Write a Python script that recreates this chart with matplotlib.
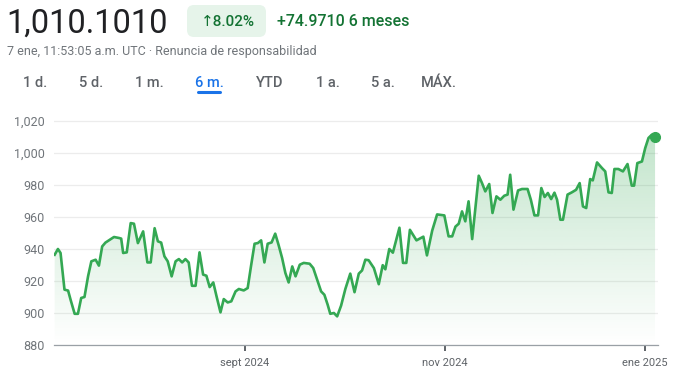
import numpy as np
import pandas as pd
import matplotlib
matplotlib.use('Agg')
import matplotlib.pyplot as plt
import matplotlib.dates as mdates
from matplotlib.patches import Polygon, FancyBboxPatch
from matplotlib.lines import Line2D
from matplotlib.transforms import IdentityTransform
from matplotlib.colors import to_rgb

# Datos (dias desde el inicio, valor)
inicio = '2024-07-05'
dias = [0, 1.0, 1.8, 3.0, 4.1, 4.9, 6.1, 7.1, 8.1, 9.1, 10.2, 11.2, 12.5, 13.5, 14.5, 15.5,
        17.1, 18.1, 19.6, 20.3, 20.9, 22.0, 23.2, 24.2, 25.4, 27.0, 28.3, 29.3, 30.5, 31.5,
        32.5, 33.5, 34.5, 35.7, 36.9, 37.9, 38.9, 39.9, 40.9, 41.9, 43.0, 44.2, 45.3, 46.3,
        47.3, 48.4, 49.4, 50.6, 51.6, 52.8, 53.9, 55.2, 56.2, 57.7, 58.9, 59.9, 61.0, 62.0,
        63.0, 64.0, 65.0, 66.2, 67.3, 68.3, 69.4, 70.4, 71.4, 72.5, 73.5, 74.8, 76.0, 77.8,
        78.9, 80.1, 81.3, 82.3, 83.3, 84.1, 85.2, 86.2, 87.4, 88.7, 90.2, 91.5, 92.8, 93.8,
        94.8, 95.8, 97.4, 98.9, 100.1, 100.9, 102.1, 103.2, 105.2, 106.3, 107.3, 108.4, 110.4,
        112.5, 113.6, 115.2, 116.7, 118.9, 120.2, 121.3, 122.3, 123.3, 124.3, 125.3, 126.3,
        127.4, 129.4, 130.4, 131.4, 132.6, 133.6, 134.8, 136.0, 137.2, 138.2, 139.0, 140.0,
        141.4, 142.6, 144.3, 145.3, 146.4, 147.5, 148.5, 149.5, 150.5, 151.5, 152.5, 153.3,
        154.3, 155.1, 156.5, 157.8, 159.1, 160.2, 161.2, 162.2, 163.4, 164.2, 165.5, 167.0,
        168.0, 169.0, 170.0, 170.8, 172.0, 173.4, 174.8, 176.1, 176.8, 177.8, 179.2, 180.2,
        181.2, 182.2, 183.2]
valores = [936.4, 940, 937.5, 914.6, 914, 908, 899.5, 899.5, 909.4, 910, 923, 932.3, 933.3, 929.6, 941.6, 944,
           946.2, 947.5, 946.9, 946.5, 937.5, 937.9, 956.2, 955.8, 943.7, 951, 931.6, 931.6, 953, 944.8,
           944, 935.4, 932.3, 922.9, 932.3, 933.7, 931.6, 933.7, 931.6, 917, 917, 937.9, 924, 923.3,
           916.2, 919.1, 910.4, 900.4, 908.7, 906.6, 907.3, 913.5, 915, 914.1, 915.6, 929.1, 943.3, 943.7,
           945.4, 931.6, 943.3, 944.1, 949.6, 942.7, 934.4, 925, 919.1, 929.1, 922.9, 930.2, 931.3, 930.8,
           928.1, 920.8, 913.5, 911.4, 905.2, 899.5, 900, 897.9, 904.6, 915, 924.6, 913, 924.6, 926.6,
           933.3, 933, 928.1, 918, 929.9, 927.3, 940, 937.7, 953.3, 931.3, 931.3, 952, 945.4,
           947.7, 936, 951.5, 961.6, 961, 947.9, 947.9, 954, 955.8, 963.5, 957.3, 969.8,
           946.2, 985.8, 981.2, 976, 980.6, 962.5, 972.9, 970.8, 973.3, 974, 986.4, 964.6,
           976.6, 977.5, 977.5, 970.8, 961, 961, 978.1, 972.5, 975, 971.2, 975.2, 970.8,
           958.3, 958.3, 974, 975.4, 977, 981.2, 966.6, 965.6, 983.7, 982.9, 994.1, 990.6,
           988.5, 975.4, 975, 990, 990, 988.5, 993.1, 979.6, 979.6, 993.7, 994.7, 1003.1,
           1009.4, 1011.4, 1010.1]

meses = ['2024-09-01', '2024-11-01', '2025-01-01']
etiquetas_meses = ['sept 2024', 'nov 2024', 'ene 2025']
niveles = [880, 900, 920, 940, 960, 980, 1000, 1020]

precio = '1,010.1010'
cambio_pct = '↑8.02%'
cambio_abs = '+74.9710 6 meses'
subtitulo = '7 ene, 11:53:05 a.m. UTC · Renuncia de responsabilidad'
pestanas = ['1 d.', '5 d.', '1 m.', '6 m.', 'YTD', '1 a.', '5 a.', 'MÁX.']
seleccionada = '6 m.'

# Estilos / posiciones (pixeles)
W, H = 673, 388
verde = '#34a853'
pos_pestanas = [35, 91, 149, 209, 270, 328, 383, 439]

fechas = pd.Timestamp(inicio) + pd.to_timedelta(dias, unit='D')
x = mdates.date2num(fechas)
x0 = mdates.date2num(pd.Timestamp(inicio)) - 0.2
x1 = mdates.date2num(pd.Timestamp(inicio)) + 184.1

fig = plt.figure(figsize=(W / 100, H / 100), dpi=100)
fig.patch.set_facecolor('white')
ax = fig.add_axes([54 / W, 43 / H, 604 / W, 232 / H])

# Degradado bajo la linea
rgb = to_rgb(verde)
grad = np.zeros((256, 1, 4))
grad[:, 0, :3] = rgb
grad[:, 0, 3] = np.linspace(0.30, 0.0, 256)
im = ax.imshow(grad, extent=[x0, x1, 880, 1012], aspect='auto', origin='upper', zorder=1)
verts = list(zip(x, valores)) + [(x[-1], 880), (x[0], 880)]
poly = Polygon(verts, closed=True, facecolor='none', edgecolor='none')
ax.add_patch(poly)
im.set_clip_path(poly)

ax.plot(x, valores, color=verde, lw=1.9, zorder=3, solid_joinstyle='round')
ax.plot(x[-1], valores[-1], 'o', ms=7, color=verde, zorder=4, clip_on=False)

ax.set_xlim(x0, x1)
ax.set_ylim(880, 1025)
ax.set_yticks(niveles)
ax.set_yticklabels([f'{v:,}' for v in niveles], family='Roboto')
ax.set_xticks(mdates.date2num(pd.to_datetime(meses)))
ax.set_xticklabels(etiquetas_meses, family='Roboto')
ax.grid(axis='y', color='#ececec', lw=0.9)
ax.set_axisbelow(True)
for s in ['top', 'right', 'left']:
    ax.spines[s].set_visible(False)
ax.spines['bottom'].set_color('#9aa0a6')
ax.spines['bottom'].set_linewidth(0.9)
ax.tick_params(axis='y', length=0, pad=6.5, labelsize=9, labelcolor='#70757a')
ax.tick_params(axis='x', length=4, width=1.4, color='#5f6368', pad=5, labelsize=8,
               labelcolor='#5f6368')


def fx(p):
    return p / W


def fy(p):
    return 1 - p / H


fam = ['Roboto', 'DejaVu Sans']
fig.text(fx(6), fy(24), precio, fontsize=23.5, color='#202124', va='center', ha='left', family=fam)

badge = FancyBboxPatch((187, H - 37), 79, 32, boxstyle='round,pad=0,rounding_size=7',
                       transform=IdentityTransform(), fc='#e6f4ea', ec='none')
fig.add_artist(badge)
fig.text(fx(228), fy(22), cambio_pct, fontsize=11, color='#137333', va='center', ha='center',
         family=fam, fontweight='medium')
fig.text(fx(277), fy(22), cambio_abs, fontsize=11.5, color='#137333', va='center', ha='left',
         family=fam, fontweight='medium')
fig.text(fx(7), fy(52), subtitulo, fontsize=9, color='#70757a', va='center', ha='left', family=fam)

for p, etiqueta in zip(pos_pestanas, pestanas):
    color = '#1a73e8' if etiqueta == seleccionada else '#5f6368'
    fig.text(fx(p), fy(83), etiqueta, fontsize=10.5, color=color, va='center', ha='center',
             family=fam, fontweight='medium')
    if etiqueta == seleccionada:
        fig.add_artist(Line2D([p - 11, p + 11], [H - 91.5, H - 91.5], transform=IdentityTransform(),
                              color='#1a73e8', lw=2.2, solid_capstyle='round'))

fig.savefig('out.png', dpi=100)
